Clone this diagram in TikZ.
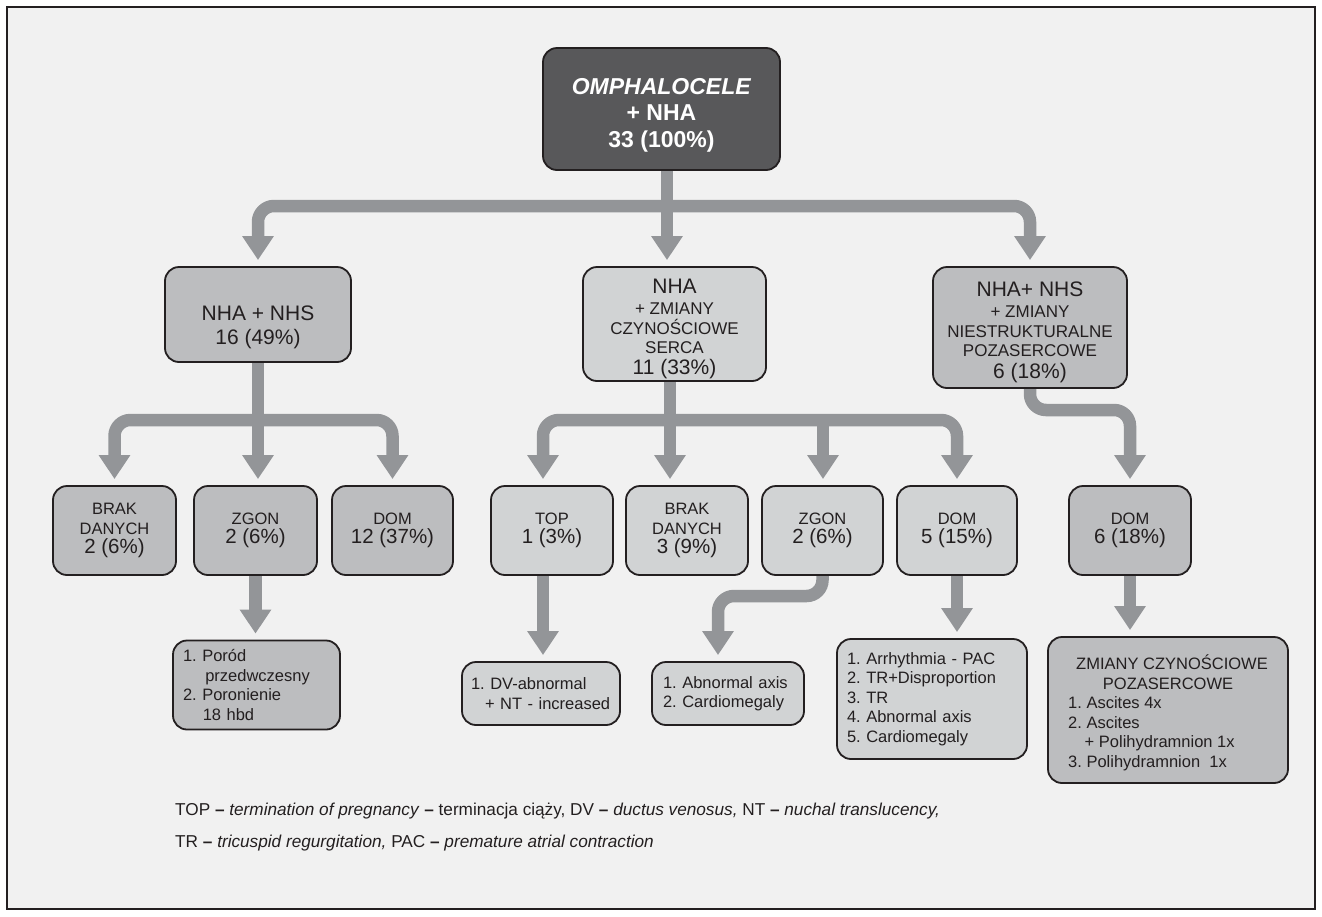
\documentclass[tikz,border=0pt]{standalone}
\usepackage{fontspec}
\setmainfont{Liberation Sans}
\frenchspacing
\usetikzlibrary{arrows.meta,backgrounds}
\definecolor{darkbox}{HTML}{58585A}
\definecolor{midgray}{HTML}{BCBDBF}
\definecolor{lightgray}{HTML}{D1D3D4}
\definecolor{arrowgray}{HTML}{939598}
\definecolor{bordercol}{HTML}{231F20}
\definecolor{bgcol}{HTML}{F1F1F1}
\begin{document}
\begin{tikzpicture}[x=1pt,y=-1pt,
  box/.style={draw=bordercol, line width=1.8pt, rounded corners=14pt, inner sep=0pt, align=center, text=bordercol},
  boxtext/.style={inner sep=0pt, align=center, text=bordercol},
  conn/.style={draw=arrowgray, line width=12.5pt, rounded corners=16pt, -{Triangle[width=30pt,length=24pt]}, shorten >=6pt},
  bus/.style={draw=arrowgray, line width=12.5pt, rounded corners=16pt},
  small/.style={font=\fontsize{17}{19.5}\selectfont},
  big/.style={font=\fontsize{21}{24}\selectfont},
  lvlthree/.style={box, minimum height=89pt, font=\fontsize{16.5}{19.5}\selectfont},
  listbox/.style={box, align=left, font=\fontsize{16.5}{19.5}\selectfont}]
\useasboundingbox (0,0) rectangle (1322,916);

% level 1
\node[box, fill=darkbox, minimum width=237pt, minimum height=122pt] (top) at (661.5,109) {};
\node[boxtext, text=white, font=\bfseries\fontsize{23}{26.5}\selectfont] (topt) at ([yshift=-6pt]top.center) {\textit{OMPHALOCELE}\\+ NHA\\33 (100\%)};

% level 2
\node[box, fill=midgray, minimum width=186pt, minimum height=95pt] (n1) at (258,314.5) {};
\node[boxtext, big] (n1t) at ([yshift=-13pt]n1.center) {NHA + NHS\\16 (49\%)};
\node[box, fill=lightgray, minimum width=183pt, minimum height=114pt] (n2) at (674.5,324) {};
\node[boxtext, small] (n2t) at ([yshift=-4.5pt]n2.center) {{\fontsize{21}{21}\selectfont NHA}\\[2pt]+ ZMIANY\\CZYNOŚCIOWE\\SERCA\\[1pt]{\fontsize{21}{21}\selectfont 11 (33\%)}};
\node[box, fill=midgray, minimum width=194pt, minimum height=121pt] (n3) at (1030,327.5) {};
\node[boxtext, small] (n3t) at ([yshift=-4.5pt]n3.center) {{\fontsize{21}{21}\selectfont NHA+ NHS}\\[2pt]+ ZMIANY\\NIESTRUKTURALNE\\POZASERCOWE\\[2pt]{\fontsize{21}{21}\selectfont 6 (18\%)}};

% level 3
\node[lvlthree, fill=midgray, minimum width=123pt] (a1) at (114.5,530.5) {BRAK\\DANYCH\\{\fontsize{20.5}{20}\selectfont 2 (6\%)}};
\node[lvlthree, fill=midgray, minimum width=123pt] (a2) at (255.5,530.5) {ZGON\\{\fontsize{20.5}{20}\selectfont 2 (6\%)}};
\node[lvlthree, fill=midgray, minimum width=121pt] (a3) at (392.5,530.5) {DOM\\{\fontsize{20.5}{20}\selectfont 12 (37\%)}};
\node[lvlthree, fill=lightgray, minimum width=122pt] (b1) at (552,530.5) {TOP\\{\fontsize{20.5}{20}\selectfont 1 (3\%)}};
\node[lvlthree, fill=lightgray, minimum width=122pt] (b2) at (687,530.5) {BRAK\\DANYCH\\{\fontsize{20.5}{20}\selectfont 3 (9\%)}};
\node[lvlthree, fill=lightgray, minimum width=121pt] (b3) at (822.5,530.5) {ZGON\\{\fontsize{20.5}{20}\selectfont 2 (6\%)}};
\node[lvlthree, fill=lightgray, minimum width=120pt] (b4) at (957,530.5) {DOM\\{\fontsize{20.5}{20}\selectfont 5 (15\%)}};
\node[lvlthree, fill=midgray, minimum width=122pt] (c1) at (1130,530.5) {DOM\\{\fontsize{20.5}{20}\selectfont 6 (18\%)}};

% level 4
\node[listbox, fill=midgray, minimum width=167pt, minimum height=89pt, text width=147pt] (d1) at (256.5,685) {1. Poród\\\hspace*{1.35em}przedwczesny\\2. Poronienie\\\hspace*{1.2em}18 hbd};
\node[listbox, fill=lightgray, minimum width=158pt, minimum height=63pt, text width=140pt] (e1) at (541,693.5) {1. DV-abnormal\\\hspace*{0.85em}+ NT - increased};
\node[listbox, fill=lightgray, minimum width=152pt, minimum height=63pt, text width=130pt] (e2) at (728,693.5) {1. Abnormal axis\\2. Cardiomegaly};
\node[listbox, fill=lightgray, minimum width=190pt, minimum height=120pt, text width=170pt] (e3) at (932,699) {1. Arrhythmia - PAC\\2. TR+Disproportion\\3. TR\\4. Abnormal axis\\5. Cardiomegaly};
\node[box, fill=midgray, minimum width=240pt, minimum height=146pt, font=\fontsize{16.5}{19.5}\selectfont] (f1) at (1168,710) {};
\node[boxtext, font=\fontsize{16.5}{19.5}\selectfont] (f1t) at ([yshift=-4pt]f1.center) {\begin{tabular}{@{}l@{}}\multicolumn{1}{@{}c@{}}{\hspace*{8pt}ZMIANY CZYNOŚCIOWE}\\\multicolumn{1}{@{}c@{}}{POZASERCOWE}\\1. Ascites 4x\\2. Ascites\\\hspace*{1em}+ Polihydramnion 1x\\3. Polihydramnion\ \ 1x\end{tabular}};

% footnote
\node[anchor=west, inner sep=0pt, font=\fontsize{17.2}{19}\selectfont, text=bordercol] (fn1) at (175,811) {TOP \textbf{--} \textit{termination of pregnancy} \textbf{--} terminacja ciąży, DV \textbf{--} \textit{ductus venosus,} NT \textbf{--} \textit{nuchal translucency,}};
\node[anchor=west, inner sep=0pt, font=\fontsize{17.2}{19}\selectfont, text=bordercol] (fn2) at (175,843) {TR \textbf{--} \textit{tricuspid regurgitation,} PAC \textbf{--} \textit{premature atrial contraction}};

% coordinates for buses
\coordinate (bus1) at (0,206);
\coordinate (bus2) at (0,420);
\coordinate (bus3) at (0,410);
\coordinate (bus4) at (0,596);
\coordinate (xtop) at (667,0);
\coordinate (xmid) at (670,0);
\coordinate (xb1) at (543,0);
\coordinate (xb3) at (823,0);
\coordinate (xe2) at (718,0);

\begin{scope}[on background layer]
\fill[white] (0,0) rectangle (1322,916);
\draw[fill=bgcol, draw=bordercol, line width=2pt] (7,7) rectangle (1315,909);
% level 1 -> 2
\draw[bus] (xtop |- top.south) -- (xtop |- bus1);
\draw[conn] (xtop |- bus1) -| (n1.north);
\draw[conn] (xtop |- top.south) -- (xtop |- n2.north);
\draw[conn] (xtop |- bus1) -| (n3.north);
% left
\draw[bus] (n1.south) -- (n1.south |- bus2);
\draw[conn] (n1.south |- bus2) -| (a1.north);
\draw[conn] (n1.south) -- (n1.south |- a2.north);
\draw[conn] (n1.south |- bus2) -| (a3.north);
% middle
\draw[bus] (xmid |- n2.south) -- (xmid |- bus2);
\draw[conn] (xmid |- bus2) -| (xb1 |- b1.north);
\draw[conn] (xmid |- n2.south) -- (xmid |- b2.north);
\draw[conn] (xb3 |- bus2) -- (xb3 |- b3.north);
\draw[conn] (xmid |- bus2) -| (b4.north);
% right
\draw[conn] (n3.south) -- (n3.south |- bus3) -| (c1.north);
% level 3 -> 4
\draw[conn] (a2.south) -- (a2.south |- d1.north);
\draw[conn] (xb1 |- b1.south) -- (xb1 |- e1.north);
\draw[conn] (b3.south) -- (b3.south |- bus4) -| (xe2 |- e2.north);
\draw[conn] (b4.south) -- (b4.south |- e3.north);
\draw[conn] (c1.south) -- (c1.south |- f1.north);
\end{scope}
\end{tikzpicture}
\end{document}
